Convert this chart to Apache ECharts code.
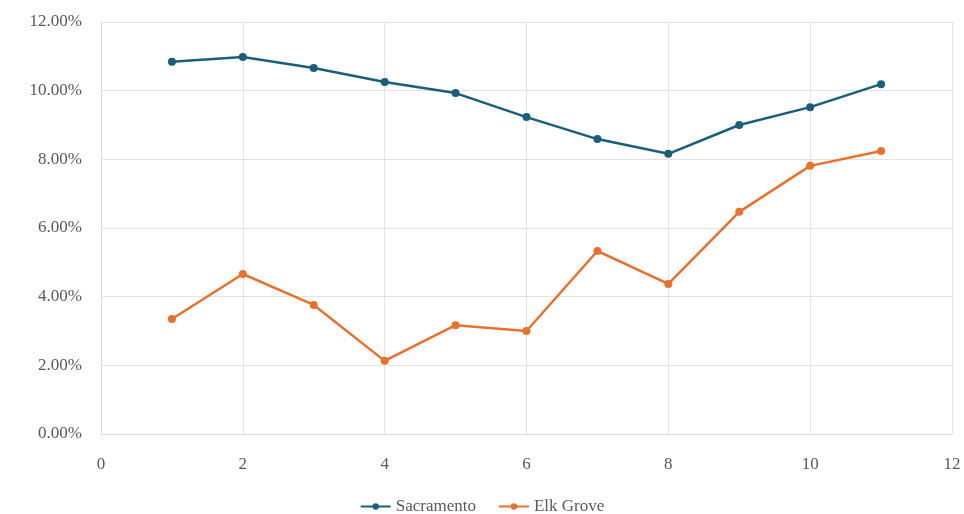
<!DOCTYPE html>
<html><head><meta charset="utf-8">
<script src="https://cdn.jsdelivr.net/npm/echarts@6/dist/echarts.min.js"></script>
<style>html,body{margin:0;padding:0;background:#fff}#c{width:964px;height:514px}</style>
</head><body><div id="c"></div>
<script>
const xValues = [1,2,3,4,5,6,7,8,9,10,11];
const sacramento = [10.84,10.98,10.66,10.25,9.93,9.23,8.59,8.16,9.00,9.52,10.19];
const elkGrove = [3.35,4.66,3.76,2.13,3.17,3.00,5.33,4.37,6.47,7.81,8.24];
const seriesNames = ['Sacramento','Elk Grove'];
const toPairs = arr => xValues.map((x,i)=>[x, arr[i]]);
const font = 'Liberation Serif';
const chart = echarts.init(document.getElementById('c'));
chart.setOption({
  animation:false,
  grid:{left:101,right:12,top:22,bottom:80,containLabel:false},
  legend:{top:493,itemGap:22,itemWidth:30,itemHeight:8,
    textStyle:{fontFamily:font,fontSize:17,color:'#595959'},
    data:seriesNames},
  xAxis:{type:'value',min:0,max:12,interval:2,
    axisLine:{show:true,lineStyle:{color:'#d9d9d9'}},
    axisTick:{show:false},
    splitLine:{show:true,lineStyle:{color:'#e3e3e3'}},
    axisLabel:{fontFamily:font,fontSize:17,color:'#595959',margin:22}},
  yAxis:{type:'value',min:0,max:12,interval:2,
    axisLine:{show:true,lineStyle:{color:'#d9d9d9'}},
    axisTick:{show:false},
    splitLine:{show:true,lineStyle:{color:'#e3e3e3'}},
    axisLabel:{fontFamily:font,fontSize:17,color:'#595959',margin:19,
      formatter:v=>v.toFixed(2)+'%'}},
  series:[
    {name:seriesNames[0],type:'line',data:toPairs(sacramento),symbol:'circle',symbolSize:8,
     lineStyle:{width:2.5,color:'#1a5f7a'},itemStyle:{color:'#1a5f7a'}},
    {name:seriesNames[1],type:'line',data:toPairs(elkGrove),symbol:'circle',symbolSize:8,
     lineStyle:{width:2.5,color:'#e8712b'},itemStyle:{color:'#e8712b'}}
  ]
});
</script></body></html>
